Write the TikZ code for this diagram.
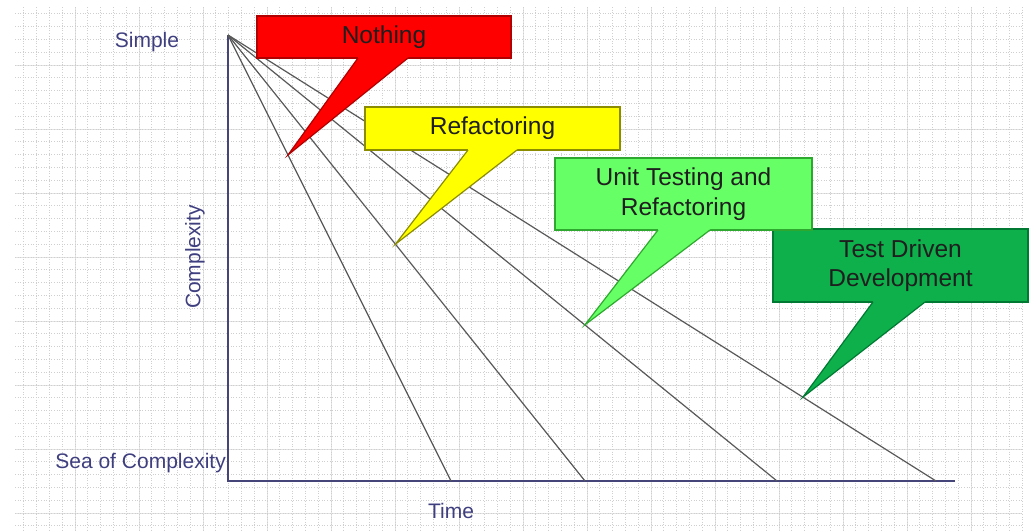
\documentclass[tikz,border=0pt]{standalone}
\usepackage{fontspec}
\setmainfont{Liberation Sans}
\usetikzlibrary{calc}

\definecolor{navy}{HTML}{3F3F80}
\definecolor{axisblue}{HTML}{45457A}
\definecolor{nothingred}{HTML}{FF0000}
\definecolor{nothingedge}{HTML}{B00000}
\definecolor{refyellow}{HTML}{FFFF00}
\definecolor{refedge}{HTML}{8C8C00}
\definecolor{utgreen}{HTML}{66FF66}
\definecolor{utedge}{HTML}{2FA82F}
\definecolor{tddgreen}{HTML}{0DB04B}
\definecolor{tddedge}{HTML}{007A33}

\begin{document}
\begin{tikzpicture}
  [x=1pt,y=-1pt,
   minor/.style={gray!38,line width=.7pt,dash pattern=on .8pt off 1.8pt},
   major/.style={gray!22,line width=1pt},
   axis/.style={axisblue,line width=1.8pt},
   ray/.style={black!65,line width=1.2pt},
   lbl/.style={text=navy,inner sep=0pt,font=\fontsize{21}{25}\selectfont},
   box/.style={draw,line width=1.2pt,inner sep=0pt,align=center,text=black!88,
     font=\fontsize{24.5}{29.5}\selectfont}]
  \useasboundingbox (0,0) rectangle (1035,531);
  \fill[white] (0,0) rectangle (1035,531);

  % grid
  \foreach \i in {1,...,15}
    \draw[major] ({11+64*\i},7) -- ({11+64*\i},531);
  \foreach \j in {1,...,8}
    \draw[major] (15,{1+64*\j}) -- (1022,{1+64*\j});
  \foreach \i in {1,...,79}
    \draw[minor] ({11+12.8*\i},7) -- ({11+12.8*\i},531);
  \foreach \j in {1,...,41}
    \draw[minor] (15,{1+12.8*\j}) -- (1022,{1+12.8*\j});

  % axes and rays
  \coordinate (apex) at (228,35);
  \coordinate (origin) at (228,481);
  \coordinate (tend) at (955,481);
  \coordinate (e1) at (451,481);
  \coordinate (e2) at (585,481);
  \coordinate (e3) at (777,481);
  \coordinate (e4) at (936,481);

  \draw[axis] (apex) -- (origin) -- (tend);
  \foreach \to in {e1,e2,e3,e4}
    \draw[ray] (apex) -- (\to);

  \node[lbl] (simple) at (147,42) {Simple};
  \node[lbl,rotate=90] (complexity) at (195,257) {Complexity};
  \node[lbl,anchor=east] (sea) at (226,463) {Sea of Complexity};
  \node[lbl] (time) at (451,511) {Time};

  % callouts
  \coordinate (t1) at ($(apex)!0.269!(e1)$);
  \coordinate (t2) at ($(apex)!0.469!(e2)$);
  \coordinate (t3) at ($(apex)!0.650!(e3)$);
  \coordinate (t4) at ($(apex)!0.812!(e4)$);

  \node[box,fill=nothingred,draw=nothingedge,minimum width=254,minimum height=42]
    (nothing) at (384,37) {Nothing};
  \fill[nothingred] (358,55) -- (358,58) -- (t1) -- (408,58) -- (408,55) -- cycle;
  \draw[nothingedge,line width=1.2pt] (358,58) -- (t1) -- (408,58);

  \node[box,fill=refyellow,draw=refedge,minimum width=255,minimum height=43]
    (refactoring) at (492.5,128.5) {Refactoring};
  \fill[refyellow] (468,147) -- (468,150) -- (t2) -- (517,150) -- (517,147) -- cycle;
  \draw[refedge,line width=1.2pt] (468,150) -- (t2) -- (517,150);

  \node[box,fill=tddgreen,draw=tddedge,minimum width=255,minimum height=73]
    (tdd) at (900.5,265.5) {Test Driven\\Development};
  \fill[tddgreen] (873,299) -- (873,302) -- (t4) -- (925,302) -- (925,299) -- cycle;
  \draw[tddedge,line width=1.2pt] (873,302) -- (t4) -- (925,302);

  \node[box,fill=utgreen,draw=utedge,minimum width=257,minimum height=72]
    (unittest) at (683.5,194) {Unit Testing and\\Refactoring};
  \fill[utgreen] (658,227) -- (658,230) -- (t3) -- (710,230) -- (710,227) -- cycle;
  \draw[utedge,line width=1.2pt] (658,230) -- (t3) -- (710,230);
\end{tikzpicture}
\end{document}
